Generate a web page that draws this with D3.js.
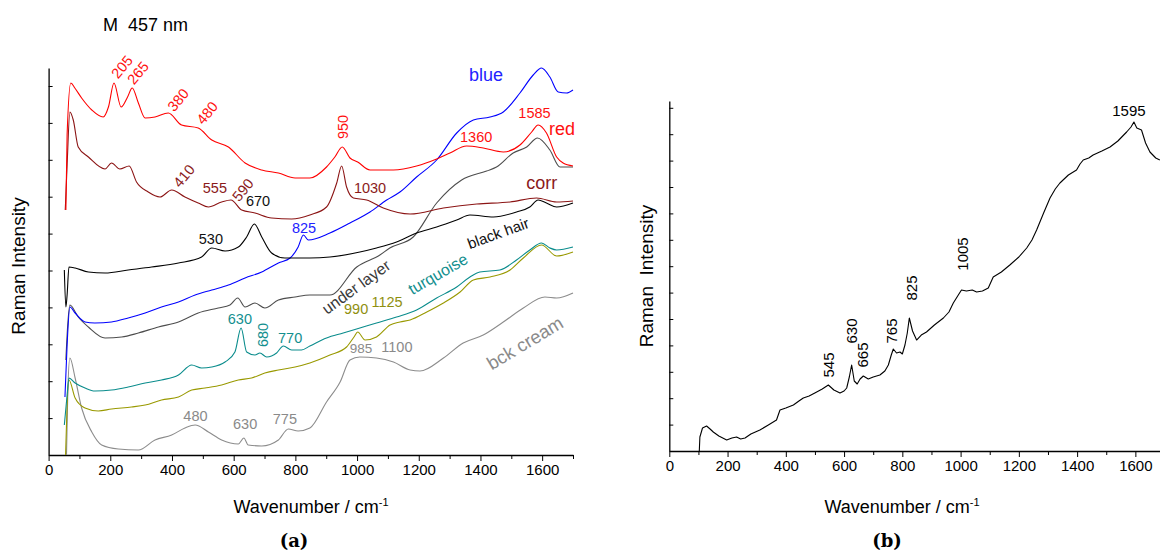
<!DOCTYPE html>
<html><head><meta charset="utf-8">
<script src="https://cdn.jsdelivr.net/npm/d3@7"></script>
<style>
body{margin:0;background:#fff;}
text{font-family:"Liberation Sans",Arial,sans-serif;}
</style></head>
<body><svg id="c" width="1160" height="550"></svg>
<script>
// ---------- data (wavenumber cm-1, relative intensity) ----------
const xTicks = d3.range(0, 1701, 100);
const xTickLabels = [0,200,400,600,800,1000,1200,1400,1600];

const redWn = [56,60,72,85,107,140,177,194,212,235,256,271,291,313,345,388,431,485,529,583,637,691,745,799,847,901,928,952,977,1002,1042,1118,1193,1258,1301,1355,1409,1474,1528,1566,1587,1614,1647,1668,1700];
const redI  = [245,320,372,367,357,345,338,348,372,348,358,367,352,337,338,342,330,327,315,308,292,285,282,277,277,288,298,308,297,293,285,285,289,296,302,309,307,303,310,323,330,322,298,292,289];

const corrWn = [54,60,69,80,96,129,183,204,231,261,285,323,361,399,442,485,518,561,591,626,669,723,788,847,901,934,950,966,988,1031,1085,1172,1280,1388,1496,1582,1647,1700];
const corrI  = [245,290,343,335,308,298,286,292,286,289,273,263,258,265,258,252,248,253,255,245,242,237,236,240,248,272,289,268,257,255,247,241,247,251,253,257,253,254];

const hairWn = [51,56,60,66,86,129,183,258,334,421,496,529,572,615,642,667,691,723,766,847,912,1009,1063,1128,1193,1258,1323,1366,1442,1517,1560,1587,1614,1647,1700];
const hairI  = [185,148,160,188,187,183,182,185,188,192,198,207,204,208,218,231,218,202,197,197,198,203,207,213,222,228,235,240,238,243,248,255,252,248,252];

const blueWn = [53,60,69,86,118,150,204,258,313,366,421,475,529,583,637,691,745,783,809,826,842,912,977,1042,1096,1139,1193,1258,1323,1377,1431,1474,1528,1571,1598,1625,1652,1679,1700];
const blueI  = [58,110,148,142,133,132,133,137,142,148,153,160,165,170,177,183,192,197,208,220,215,222,232,243,255,263,278,295,322,335,338,343,362,380,387,378,363,362,365];

const underWn = [56,62,69,96,129,183,237,291,356,421,485,550,588,613,637,669,701,745,799,847,912,999,1074,1106,1182,1258,1339,1420,1452,1506,1550,1585,1625,1658,1700];
const underI  = [95,130,150,138,128,117,118,122,128,133,142,147,150,157,148,152,147,155,158,160,160,188,200,207,218,252,275,284,288,302,308,317,305,288,288];

const turqWn = [51,60,66,86,118,150,204,258,313,366,421,464,496,529,572,604,624,642,669,685,707,739,761,788,820,847,901,955,1009,1063,1128,1193,1258,1323,1366,1398,1463,1517,1560,1598,1625,1647,1700];
const turqI  = [30,60,77,72,67,64,65,68,72,75,80,90,87,88,93,103,127,103,100,102,98,102,109,105,105,109,117,122,127,132,138,145,157,168,178,183,185,195,205,212,207,205,208];

const oliveWn = [55,60,66,86,118,161,204,269,313,366,421,464,507,561,615,658,701,745,799,847,912,966,990,1002,1026,1063,1107,1139,1172,1226,1280,1334,1377,1431,1496,1539,1598,1647,1700];
const oliveI  = [0,50,75,57,47,44,46,48,50,55,58,65,67,70,75,77,82,85,88,92,100,108,118,123,115,118,130,133,135,143,152,163,175,178,185,197,210,199,203];

const creamWn = [58,62,69,86,107,140,172,226,291,345,399,442,475,518,561,615,633,647,691,745,777,809,847,901,945,977,1009,1063,1118,1172,1204,1280,1344,1409,1474,1539,1609,1647,1700];
const creamI  = [0,60,97,77,47,23,10,6,5,15,20,27,30,23,15,11,17,10,9,15,26,24,27,53,73,95,98,97,93,85,84,97,112,120,133,147,158,157,162];

const bWn = [103,105,114,128,140,151,170,197,215,231,245,260,280,311,340,368,380,400,426,445,460,480,506,525,546,565,586,600,609,618,626,635,645,655,666,683,700,723,740,752,762,769,780,792,800,809,817,824,835,849,865,883,910,941,960,975,990,1003,1020,1040,1055,1075,1095,1112,1140,1169,1200,1227,1245,1261,1285,1307,1325,1341,1370,1398,1410,1421,1440,1455,1485,1513,1540,1570,1585,1595,1605,1621,1635,1650,1670,1684];
const bI  = [0,14,23,25,22,19,15,11,13,14,12,13,17,21,26,31,41,43,46,50,53,55,59,62,66,61,58,60,63,74,86,70,67,72,75,72,74,76,80,86,96,102,98,99,97,106,118,133,120,111,116,119,126,133,139,148,155,161,160,161,159,160,163,174,179,186,194,203,211,221,238,253,262,268,276,281,287,291,293,296,300,304,310,319,324,329,323,321,308,299,293,291];

// peak / curve labels: [text, wavenumber, intensity, rotation, colour key, size]
const labelsA = [
 ["205",238,388,-50,"red",14.5],["265",290,382,-50,"red",14.5],["380",420,355,-50,"red",14.5],["480",514,342,-50,"red",14.5],
 ["950",955,328,-90,"red",14.5],["1360",1386,318,0,"red",14.5],["1585",1575,342,0,"red",14.5],["red",1664,326,0,"red",18],
 ["blue",1418,380,0,"blue",18],["corr",1599,272,0,"corr",18],
 ["1030",1042,267,0,"corr",14.5],["410",439,279,-50,"corr",14.5],["555",539,267,0,"corr",14.5],["590",630,265,-50,"corr",14.5],
 ["670",679,254,0,"hair",14.5],["530",526,216,0,"hair",14.5],["825",828,227,0,"blue",14.5],
 ["black hair",1457,222,-20,"hair",15],["under layer",997,168,-36,"under",16],["turquoise",1262,181,-30,"turq",16],
 ["bck cream",1544,112,-31,"cream",18.5],
 ["990",997,146,0,"olive",14.5],["1125",1097,153,0,"olive",14.5],["985",1013,107,0,"cream",13.5],["1100",1129,108,0,"cream",14.5],
 ["630",620,136,0,"turq",14.5],["680",695,120,-90,"turq",14.5],["770",783,117,0,"turq",14.5],
 ["480",476,39,0,"cream",14.5],["630",637,31,0,"cream",14.5],["775",766,36,0,"cream",14.5]
];
const labelsB = [
 ["1595",1578,341,0],["1005",1006,197,-90],["825",830,163,-90],["765",764,120,-90],
 ["630",624,120,-90],["665",663,96,-90],["545",548,86,-90]
];

const colors = {red:"#ff0000",corr:"#8b1414",hair:"#000000",blue:"#0000ff",under:"#4d4d4d",
  turq:"#0a8c8c",olive:"#999900",cream:"#8c8c8c"};
const labelColors = {red:"#ff1010",corr:"#8b1a1a",hair:"#111",blue:"#2222ff",under:"#3a3a3a",
  turq:"#138f8f",olive:"#8f8f10",cream:"#8a8a8a"};

// ---------- drawing ----------
const svg = d3.select("#c");
const xA = d3.scaleLinear([0,1700],[48.6,573]);
const yA = d3.scaleLinear([0,387],[455,68]);
const xB = d3.scaleLinear([0,1700],[669.3,1164.5]);
const yB = d3.scaleLinear([0,350],[451,101]);

function drawAxes(x, y, y0, yTickStep, nY){
  const gx = svg.append("g").attr("transform",`translate(0,${y0})`)
    .call(d3.axisBottom(x).tickValues(xTicks).tickFormat(d=>xTickLabels.includes(d)?d:"")
      .tickSize(6).tickSizeOuter(0));
  gx.selectAll(".tick line").attr("y2", d=>d%200===0?6:4).attr("stroke","#000");
  gx.selectAll("text").attr("font-size",15).attr("dy","0.72em").attr("fill","#000");
  gx.select(".domain").attr("stroke","#000").attr("stroke-width",1.3);
  const gy = svg.append("g").attr("transform",`translate(${x.range()[0]},0)`)
    .call(d3.axisRight(y).tickValues(d3.range(1,nY+1).map(k=>k*yTickStep)).tickFormat("").tickSize(4).tickSizeOuter(0));
  gy.select(".domain").attr("stroke","#000").attr("stroke-width",1.3);
}
drawAxes(xA, yA, 455, 36.9, 10);
drawAxes(xB, yB, 451, 26.4, 13);

const lineA = d3.line().x(d=>xA(d[0])).y(d=>yA(d[1])).curve(d3.curveMonotoneX);
const lineB = d3.line().x(d=>xB(d[0])).y(d=>yB(d[1]));
const seriesA = [
  ["cream",creamWn,creamI],["olive",oliveWn,oliveI],["turq",turqWn,turqI],["under",underWn,underI],
  ["blue",blueWn,blueI],["hair",hairWn,hairI],["corr",corrWn,corrI],["red",redWn,redI]
];
seriesA.forEach(([k,w,v])=>{
  svg.append("path").datum(d3.zip(w,v)).attr("d",lineA).attr("fill","none")
    .attr("stroke",colors[k]).attr("stroke-width",1.1).attr("stroke-linejoin","round");
});
svg.append("path").datum(d3.zip(bWn,bI)).attr("d",lineB).attr("fill","none")
  .attr("stroke","#000").attr("stroke-width",1.1).attr("stroke-linejoin","round");

labelsA.forEach(([t,w,v,r,c,s])=>{
  svg.append("text").attr("transform",`translate(${xA(w)},${yA(v)}) rotate(${r})`)
    .attr("text-anchor","middle").attr("dominant-baseline","central")
    .attr("font-size",s).attr("fill",labelColors[c]).text(t);
});
labelsB.forEach(([t,w,v,r])=>{
  svg.append("text").attr("transform",`translate(${xB(w)},${yB(v)}) rotate(${r})`)
    .attr("text-anchor","middle").attr("dominant-baseline","central")
    .attr("font-size",15).attr("fill","#000").text(t);
});

// titles
svg.append("text").attr("x",103).attr("y",31).attr("font-size",18).style("white-space","pre").text("M  457 nm");
[[18,266,"Raman Intensity"],[646,276,"Raman  Intensity"]].forEach(([x,y,s])=>{
  svg.append("text").attr("transform",`translate(${x},${y}) rotate(-90)`).attr("text-anchor","middle")
    .attr("dominant-baseline","central").attr("font-size",19).style("white-space","pre").text(s);
});
[[311],[902]].forEach(([cx])=>{
  const t = svg.append("text").attr("x",cx).attr("y",513).attr("text-anchor","middle").attr("font-size",18);
  t.append("tspan").text("Wavenumber / cm");
  t.append("tspan").attr("font-size",11).attr("dy",-7).text("-1");
});
[["(a)",294],["(b)",887]].forEach(([s,cx])=>{
  svg.append("text").attr("x",cx).attr("y",547).attr("text-anchor","middle").attr("font-size",18)
    .attr("font-weight","bold").style("font-family","'DejaVu Serif','Liberation Serif',serif").text(s);
});
</script></body></html>
